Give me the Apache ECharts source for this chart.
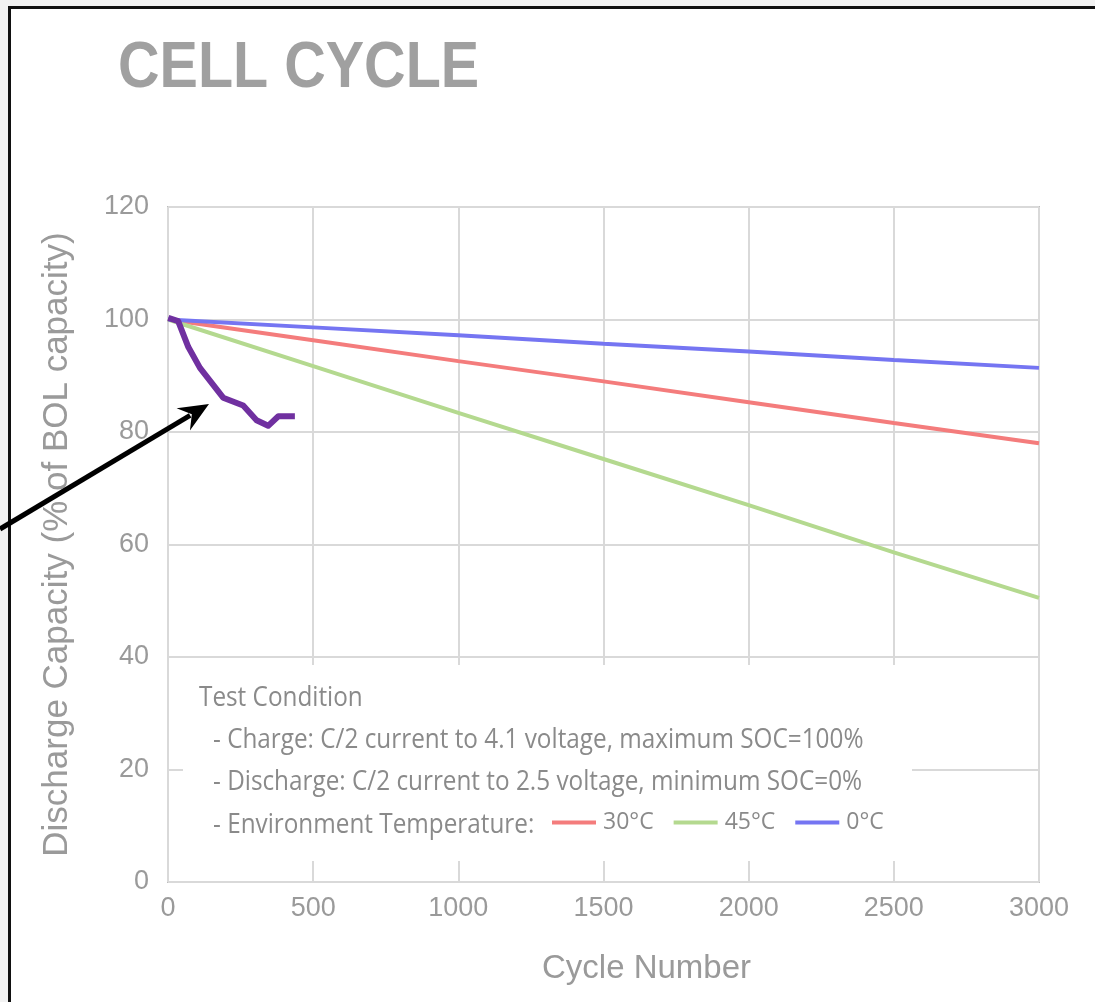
<!DOCTYPE html>
<html>
<head>
<meta charset="utf-8">
<title>Cell Cycle</title>
<script src="https://cdn.jsdelivr.net/npm/echarts@6/dist/echarts.min.js"></script>
<style>
  html, body { margin: 0; padding: 0; background: #fff; overflow: hidden; }
  .strip { position: absolute; }
  #grayTop  { left: 0; top: 0; width: 100%; height: 6px; background: #f2f2f2; }
  #grayLeft { left: 0; top: 0; width: 8px; height: 100%; background: #f2f2f2; }
  #lineTop  { left: 8px; top: 6px; right: 0; height: 2.5px; background: #111; }
  #lineLeft { left: 8px; top: 6px; bottom: 0; width: 2.5px; background: #111; }
  #chart { position: absolute; left: 0; top: 0; width: 1095px; height: 1002px; }
</style>
</head>
<body>
<div class="strip" id="grayTop"></div>
<div class="strip" id="grayLeft"></div>
<div class="strip" id="lineTop"></div>
<div class="strip" id="lineLeft"></div>
<div id="chart"></div>
<script>
"use strict";

// x 轴：循环次数
const cycles   = [0, 500, 1000, 1500, 2000, 2500, 3000];
// 三条温度曲线（% of BOL）
const cap30C   = [100, 96.3, 92.6, 89.0, 85.3, 81.6, 78.0];
const cap45C   = [100, 91.7, 83.4, 75.2, 67.0, 58.6, 50.5];
const cap0C    = [100, 98.6, 97.2, 95.7, 94.3, 92.8, 91.4];
// 紫色实测曲线
const testCycles = [1, 35, 70, 110, 190, 259, 305, 345, 380, 437];
const testCap    = [100.3, 99.7, 95.1, 91.4, 86.1, 84.7, 82.1, 81.1, 82.8, 82.8];

const seriesNames = ["30°C", "45°C", "0°C"];
const yTicks = [0, 20, 40, 60, 80, 100, 120];
const xTicks = [0, 500, 1000, 1500, 2000, 2500, 3000];

const noteLines = [
  "Test Condition",
  "- Charge: C/2 current to 4.1 voltage, maximum SOC=100%",
  "- Discharge: C/2 current to 2.5 voltage, minimum SOC=0%",
  "- Environment Temperature:"
];

const GRAY = "#9a9a9a";
const pair = (xs, ys) => xs.map((x, i) => [x, ys[i]]);

const chart = echarts.init(document.getElementById("chart"));

/* ── 注释框文字 ── */
const noteText = noteLines.map((t, i) => ({
  type: "text", z: 20,
  x: i === 0 ? 199 : 213, y: 698 + i * 42.3,
  scaleX: 0.9,
  style: { x: 0, y: 0, text: t, fill: "#8a8a8a", font: "27px 'Open Sans'", textVerticalAlign: "middle" }
}));

/* ── 箭头 ── */
const tip = [209, 404], len = 30, half = 13, notch = 20;
const dx = 209, dy = -125, dl = Math.hypot(dx, dy);
const ux = dx / dl, uy = dy / dl, nx = -uy, ny = ux;
const back = [tip[0] - ux * len, tip[1] - uy * len];
const head = [
  tip,
  [back[0] + nx * half, back[1] + ny * half],
  [tip[0] - ux * notch, tip[1] - uy * notch],
  [back[0] - nx * half, back[1] - ny * half]
];

chart.setOption({
  backgroundColor: "transparent",
  animation: false,
  grid: { left: 168, top: 207, right: 56, bottom: 120, show: true, borderColor: "#bdbdbd", borderWidth: 2 },
  legend: {
    data: seriesNames, left: 552, top: 811, padding: 0, z: 30,
    icon: "rect", itemWidth: 44, itemHeight: 4, itemGap: 20,
    textStyle: { color: "#8a8a8a", fontSize: 23, fontFamily: "'Open Sans'", padding: [0, 0, 0, 2] }
  },
  xAxis: {
    type: "value", min: 0, max: 3000, interval: 500,
    name: "Cycle Number", nameLocation: "middle", nameGap: 70,
    nameTextStyle: { color: GRAY, fontSize: 33, fontFamily: "'Liberation Sans'", padding: [0, 0, 0, 86] },
    axisLine: { show: false }, axisTick: { show: false },
    axisLabel: { color: GRAY, fontSize: 27, fontFamily: "'Liberation Sans'", margin: 13,
                 formatter: v => xTicks.includes(v) ? String(v) : "" },
    splitLine: { lineStyle: { color: "#d9d9d9", width: 2 } }
  },
  yAxis: {
    type: "value", min: 0, max: 120, interval: 20,
    name: "Discharge Capacity (% of BOL capacity)", nameLocation: "middle", nameGap: 93,
    nameTextStyle: { color: GRAY, fontSize: 35, fontFamily: "'Liberation Sans'" },
    axisLine: { show: false }, axisTick: { show: false },
    axisLabel: { color: GRAY, fontSize: 27, fontFamily: "'Liberation Sans'", margin: 19,
                 formatter: v => yTicks.includes(v) ? String(v) : "" },
    splitLine: { lineStyle: { color: "#d9d9d9", width: 2 } }
  },
  series: [
    { name: seriesNames[0], type: "line", data: pair(cycles, cap30C), showSymbol: false,
      lineStyle: { color: "#f47c7c", width: 4 }, itemStyle: { color: "#f47c7c" } },
    { name: seriesNames[1], type: "line", data: pair(cycles, cap45C), showSymbol: false,
      lineStyle: { color: "#b4d98f", width: 4 }, itemStyle: { color: "#b4d98f" } },
    { name: seriesNames[2], type: "line", data: pair(cycles, cap0C), showSymbol: false,
      lineStyle: { color: "#7575f2", width: 4 }, itemStyle: { color: "#7575f2" } },
    { name: "test", type: "line", data: pair(testCycles, testCap), showSymbol: false, z: 5,
      lineStyle: { color: "#7030a0", width: 6, join: "round" }, itemStyle: { color: "#7030a0" } }
  ],
  graphic: [
    { type: "text", x: 118, y: 69, scaleX: 0.885, z: 20,
      style: { x: 0, y: 0, text: "CELL CYCLE", fill: "#a0a0a0", font: "bold 65px 'Liberation Sans'", textVerticalAlign: "middle" } },
    // 注释框底色（遮住网格线）
    { type: "rect", z: 15, shape: { x: 183, y: 665, width: 729, height: 196 }, style: { fill: "#fff" } },
    ...noteText,
    { type: "polyline", z: 40, shape: { points: [[0, 529], [tip[0] - ux * 22, tip[1] - uy * 22]] },
      style: { stroke: "#000", lineWidth: 5, fill: null } },
    { type: "polygon", z: 40, shape: { points: head }, style: { fill: "#000" } }
  ]
});
</script>
</body>
</html>
